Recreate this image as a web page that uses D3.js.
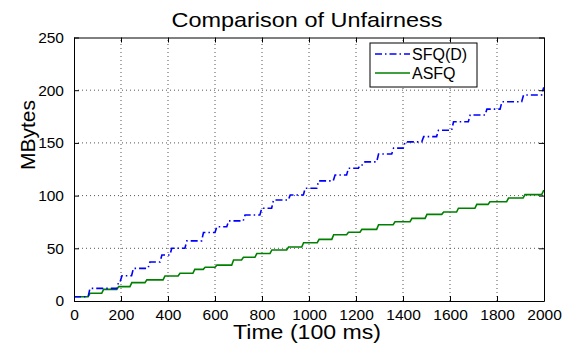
<!DOCTYPE html>
<html>
<head>
<meta charset="utf-8">
<title>Comparison of Unfairness</title>
<style>
    body { margin: 0; background: #fff; font-family: "Liberation Sans", Arial, sans-serif; }
    .grid line { stroke: #555; stroke-dasharray: 1,3; stroke-width: 1; }
    .tick text { font-size: 15.5px; fill: #000; }
</style>
<script src="https://d3js.org/d3.v7.min.js"></script>
</head>
<body>
<script>
// axis ticks
var xTicks = [0, 200, 400, 600, 800, 1000, 1200, 1400, 1600, 1800, 2000];
var yTicks = [0, 50, 100, 150, 200, 250];

// SFQ(D): time where each step starts, and the level it climbs to
var sfqTime  = [0, 60, 182, 196, 245, 315, 366, 408, 472, 543, 600, 650, 720, 791, 841, 912, 976, 1033, 1103, 1160, 1210, 1230, 1288, 1352, 1401, 1480, 1543, 1607, 1678, 1749, 1813, 1905, 1990];
var sfqLevel = [4, 12, 18, 24, 31, 37, 43.6, 50, 57, 65, 70.5, 76, 81.6, 88, 95.8, 100.6, 107, 114, 119.5, 126, 129, 132, 139.5, 145, 151, 156, 162, 170, 176.5, 182, 189, 195.5, 202];

// ASFQ
var asfqTime  = [0, 60, 118, 182, 238, 302, 379, 443, 506, 550, 600, 671, 713, 770, 834, 905, 969, 1035, 1097, 1160, 1217, 1288, 1358, 1430, 1494, 1565, 1628, 1706, 1762, 1841, 1911, 1990];
var asfqLevel = [4, 7.3, 11, 13.6, 17.4, 20, 23.7, 26.3, 30, 32, 34, 38.9, 41.5, 45, 48.4, 51.2, 55.3, 58.5, 62.9, 65.2, 68, 72.4, 75.2, 78.4, 82.2, 84.4, 88, 91.7, 94.2, 97.7, 100.9, 104.6];

var width = 571, height = 345;
var margin = {left: 74, right: 27, top: 37.5, bottom: 44};

var svg = d3.select("body").append("svg")
    .attr("width", width)
    .attr("height", height);

var x = d3.scaleLinear().domain([0, 2000]).range([margin.left, width - margin.right]);
var y = d3.scaleLinear().domain([0, 250]).range([height - margin.bottom, margin.top]);

// dotted grid
var grid = svg.append("g").attr("class", "grid");
grid.selectAll(".gx").data(xTicks.slice(1, -1)).enter().append("line")
    .attr("x1", d => x(d)).attr("x2", d => x(d))
    .attr("y1", y(0)).attr("y2", y(250));
grid.selectAll(".gy").data(yTicks.slice(1, -1)).enter().append("line")
    .attr("x1", x(0)).attr("x2", x(2000))
    .attr("y1", d => y(d)).attr("y2", d => y(d));

// turn step arrays into points, each rise slightly slanted
function steps(times, levels, end) {
    var pts = [[times[0], levels[0]]];
    for (var i = 1; i < times.length; i++) {
        pts.push([times[i], levels[i - 1]]);
        pts.push([Math.min(times[i] + 8, end), levels[i]]);
    }
    pts.push([end, levels[levels.length - 1]]);
    return pts;
}

var line = d3.line().x(d => x(d[0])).y(d => y(d[1]));

svg.append("path")
    .datum(steps(asfqTime, asfqLevel, 2000))
    .attr("fill", "none")
    .attr("stroke", "#008000")
    .attr("stroke-width", 1.6)
    .attr("d", line);

svg.append("path")
    .datum(steps(sfqTime, sfqLevel, 2000))
    .attr("fill", "none")
    .attr("stroke", "#0000ff")
    .attr("stroke-width", 1.6)
    .attr("stroke-dasharray", "7,3,1.5,3")
    .attr("d", line);

// axes with inward ticks, and a box round the plot
var fmt = d3.format("d");
var xAxis = svg.append("g")
    .attr("transform", "translate(0," + y(0) + ")")
    .call(d3.axisBottom(x).tickValues(xTicks).tickFormat(fmt).tickSizeInner(-5).tickSizeOuter(0).tickPadding(10));
var yAxis = svg.append("g")
    .attr("transform", "translate(" + x(0) + ",0)")
    .call(d3.axisLeft(y).tickValues(yTicks).tickFormat(fmt).tickSizeInner(-5).tickSizeOuter(0).tickPadding(10));
svg.append("g")
    .attr("transform", "translate(0," + y(250) + ")")
    .call(d3.axisTop(x).tickValues(xTicks).tickSizeInner(-5).tickSizeOuter(0).tickFormat(""));
svg.append("g")
    .attr("transform", "translate(" + x(2000) + ",0)")
    .call(d3.axisRight(y).tickValues(yTicks).tickSizeInner(-5).tickSizeOuter(0).tickFormat(""));
svg.selectAll(".domain").attr("stroke", "#000");
svg.selectAll(".tick line").attr("stroke", "#000");
xAxis.selectAll("text").attr("dy", "0.55em");

// titles
svg.append("text")
    .attr("x", 307).attr("y", 26.5)
    .attr("text-anchor", "middle")
    .attr("font-size", 21)
    .attr("textLength", 271).attr("lengthAdjust", "spacingAndGlyphs")
    .text("Comparison of Unfairness");

svg.append("text")
    .attr("x", 307).attr("y", 339)
    .attr("text-anchor", "middle")
    .attr("font-size", 20)
    .attr("textLength", 148).attr("lengthAdjust", "spacingAndGlyphs")
    .text("Time (100 ms)");

svg.append("text")
    .attr("transform", "translate(35,135) rotate(-90)")
    .attr("text-anchor", "middle")
    .attr("font-size", 21)
    .text("MBytes");

// legend
var legend = svg.append("g").attr("transform", "translate(370,43)");
legend.append("rect")
    .attr("width", 107).attr("height", 44)
    .attr("fill", "#fff").attr("stroke", "#000").attr("stroke-width", 1);
var items = [
    {name: "SFQ(D)", color: "#0000ff", dash: "7,3,1.5,3"},
    {name: "ASFQ", color: "#008000", dash: null}
];
var li = legend.selectAll(".li").data(items).enter().append("g")
    .attr("transform", (d, i) => "translate(0," + (11 + i * 19) + ")");
li.append("line")
    .attr("x1", 5).attr("x2", 40)
    .attr("stroke", d => d.color).attr("stroke-width", 1.6)
    .attr("stroke-dasharray", d => d.dash);
li.append("text")
    .attr("x", 42).attr("dy", "0.36em")
    .attr("font-size", 16)
    .text(d => d.name);
</script>
</body>
</html>
